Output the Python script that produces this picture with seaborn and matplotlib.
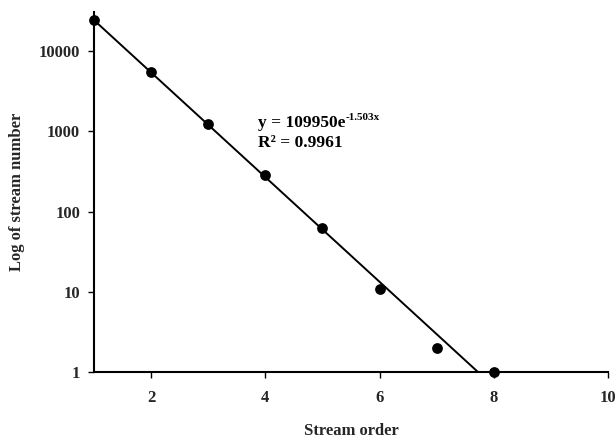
import numpy as np
import pandas as pd
import matplotlib
matplotlib.use("Agg")
import matplotlib.pyplot as plt
import seaborn as sns

# Data
stream_order = [1, 2, 3, 4, 5, 6, 7, 8]
stream_number = [24500, 5500, 1240, 286, 62, 11, 2, 1]

# Exponential trend line parameters (from chart annotation)
fit_a = 109950
fit_b = -1.503
fit_label = "y = 109950e"
fit_exp = "-1.503x"
r2_label = "R² = 0.9961"

x_ticks = [2, 4, 6, 8, 10]
y_ticks = [1, 10, 100, 1000, 10000]

sns.set_theme(style="white")
plt.rcParams['font.family'] = ['Liberation Serif', 'DejaVu Serif']
plt.rcParams['font.weight'] = 'bold'

fig = plt.figure(figsize=(6.16, 4.40), dpi=100)
ax = fig.add_axes([94/616, 68/440, (608-94)/616, (372-12)/440])

df = pd.DataFrame({"order": stream_order, "number": stream_number})

# Trend line from x=1 to where it reaches y=1
x_end = np.log(1.0 / fit_a) / fit_b
xs = np.linspace(1, x_end, 50)
trend = pd.DataFrame({"order": xs, "number": fit_a * np.exp(fit_b * xs)})
sns.lineplot(data=trend, x="order", y="number", ax=ax, color="black", lw=1.4, zorder=2)

sns.scatterplot(data=df, x="order", y="number", ax=ax, color="black", s=60,
                edgecolor="black", linewidth=0, zorder=3, clip_on=False)

ax.set_yscale("log")
ax.set_xlim(1, 10)
ax.set_ylim(1, 10 ** 4.49)
ax.set_xticks(x_ticks)
ax.set_xticklabels([str(t) for t in x_ticks], fontsize=12, fontweight='bold')
ax.set_yticks(y_ticks)
ax.set_yticklabels([str(t) for t in y_ticks], fontsize=12, fontweight='bold')
ax.minorticks_off()

for s in ["top", "right"]:
    ax.spines[s].set_visible(False)
for s in ["left", "bottom"]:
    ax.spines[s].set_color("black")
    ax.spines[s].set_linewidth(1.5)

ax.tick_params(axis="both", which="major", direction="out", length=4, width=1,
               color="black", left=True, bottom=True)
ax.tick_params(axis="x", pad=9)
ax.tick_params(axis="y", pad=6)

ax.set_xlabel("Stream order", fontsize=12, fontweight='bold', labelpad=12)
ax.set_ylabel("Log of stream number", fontsize=12, fontweight='bold', labelpad=10)

# Equation annotation
t = fig.text(258/616, 1 - 127/440, fit_label, fontsize=12.5, fontweight='bold',
             color="black", va="baseline")
fig.canvas.draw()
bb = t.get_window_extent()
fig.text(bb.x1 / fig.bbox.width, 1 - 120/440, fit_exp, fontsize=8,
         fontweight='bold', color="black", va="baseline")
fig.text(258/616, 1 - 147/440, r2_label, fontsize=12.5, fontweight='bold',
         color="black", va="baseline")

fig.savefig("out.png", dpi=100)
